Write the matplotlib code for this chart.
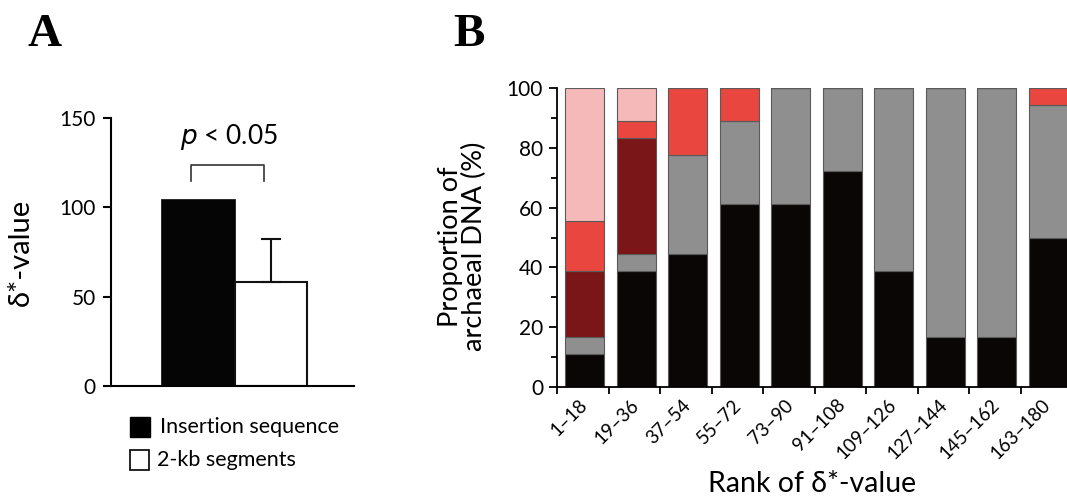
import matplotlib
matplotlib.use("Agg")
import matplotlib.pyplot as plt
import numpy as np

plt.rcParams['font.family'] = ['Lato', 'DejaVu Sans']

# Panel A data
a_groups = ["Insertion sequence", "2-kb segments"]
a_values = [104, 58]
a_err_up = [0, 24]

# Panel B data (percent, stacked bottom -> top)
b_labels = ["1\u201318", "19\u201336", "37\u201354", "55\u201372", "73\u201390",
            "91\u2013108", "109\u2013126", "127\u2013144", "145\u2013162", "163\u2013180"]
seg_black   = [11.1, 38.9, 44.4, 61.1, 61.1, 72.2, 38.9, 16.7, 16.7, 50.0]
seg_gray    = [5.6, 5.6, 33.3, 27.8, 38.9, 27.8, 61.1, 83.3, 83.3, 44.4]
seg_darkred = [22.2, 38.9, 0, 0, 0, 0, 0, 0, 0, 0]
seg_red     = [16.7, 5.6, 22.2, 11.1, 0, 0, 0, 0, 0, 5.6]
seg_pink    = [44.4, 11.1, 0, 0, 0, 0, 0, 0, 0, 0]

W, H = 1067, 503
fig = plt.figure(figsize=(W / 100, H / 100), dpi=100)

def fx(px):
    return px / W

def fy(py):
    return 1 - py / H

# ---------- Panel A ----------
axA = fig.add_axes([fx(111), fy(386), fx(354 - 111), fy(118) - fy(386)])
unit = 73.0
left_off = (198 - 111) / unit
xA = np.arange(len(a_values))
axA.bar(xA[0], a_values[0], width=1.0, color='#050505', edgecolor='#050505', linewidth=1.2)
axA.bar(xA[1], a_values[1], width=0.98, color='white', edgecolor='#111111', linewidth=1.5,
        yerr=[[a_err_up[0] * 0], [a_err_up[1]]], error_kw=dict(ecolor='#111111', elinewidth=1.5,
                                                               capsize=7, capthick=1.5))
axA.set_xlim(-left_off, -left_off + (354 - 111) / unit)
axA.set_ylim(0, 150)
axA.set_yticks([0, 50, 100, 150])
axA.set_xticks([])
for s in ['top', 'right']:
    axA.spines[s].set_visible(False)
for s in ['left', 'bottom']:
    axA.spines[s].set_linewidth(1.5)
axA.tick_params(axis='y', direction='out', length=6, width=1.5, labelsize=15, pad=5)
axA.set_ylabel("\u03b4*-value", fontsize=21, labelpad=18)

# significance bracket
bx0, bx1 = -0.1, 0.9
axA.plot([bx0, bx0, bx1, bx1], [114.5, 123.5, 123.5, 114.5], color='#333333', lw=1.2, clip_on=False)
axA.text(0.42, 131, r"$\it{p}$ < 0.05", ha='center', va='bottom', fontsize=19)

# legend (manual)
fig.patches.append(plt.Rectangle((fx(130), fy(437)), fx(20), fy(417) - fy(437),
                                 transform=fig.transFigure, facecolor='black', edgecolor='black'))
fig.patches.append(plt.Rectangle((fx(130), fy(470)), fx(19), fy(450) - fy(470),
                                 transform=fig.transFigure, facecolor='white', edgecolor='black', lw=1.2))
fig.text(fx(160), fy(427), a_groups[0], fontsize=15.5, va='center', ha='left')
fig.text(fx(157), fy(460), a_groups[1], fontsize=15.5, va='center', ha='left')

# ---------- Panel B ----------
axB = fig.add_axes([fx(557), fy(387), fx(1067 - 557), fy(88) - fy(387)])
unitB = 51.5
xB = np.arange(len(b_labels))
bw = 39 / unitB
colors = ['#0a0606', '#8f8f8f', '#7a1518', '#e8463f', '#f6b9b9']
bottom = np.zeros(len(b_labels))
for vals, c in zip([seg_black, seg_gray, seg_darkred, seg_red, seg_pink], colors):
    vals = np.array(vals)
    axB.bar(xB, vals, width=bw, bottom=bottom, color=c, edgecolor='#5a5a5a', linewidth=0.8)
    bottom += vals
x_left = -(584.5 - 557) / unitB
axB.set_xlim(x_left, x_left + (1067 - 557) / unitB)
axB.set_ylim(0, 100)
axB.set_yticks([0, 20, 40, 60, 80, 100])
axB.set_yticks(np.arange(10, 100, 20), minor=True)
axB.set_xticks(xB)
axB.set_xticklabels(b_labels, rotation=45, ha='right', va='center', rotation_mode='anchor', fontsize=13.5)
axB.set_xticks(x_left + np.arange(0, 10) * 1.0, minor=True)
axB.tick_params(axis='x', which='major', length=0, pad=11)
axB.tick_params(axis='x', which='minor', direction='out', length=5, width=1.3)
axB.tick_params(axis='y', which='major', direction='out', length=6, width=1.3, labelsize=15, pad=4)
axB.tick_params(axis='y', which='minor', direction='out', length=4, width=1.3)
for s in ['top', 'right']:
    axB.spines[s].set_visible(False)
for s in ['left', 'bottom']:
    axB.spines[s].set_linewidth(1.3)
axB.set_ylabel("Proportion of\narchaeal DNA (%)", fontsize=19.5, linespacing=0.95)
axB.yaxis.set_label_coords(-0.137, 0.47)
axB.set_xlabel("Rank of \u03b4*-value", fontsize=20.5, labelpad=6)

# panel letters
fig.text(fx(27), fy(46), "A", fontsize=34, fontweight='bold', family='Liberation Serif', ha='left', va='baseline')
fig.text(fx(453), fy(46), "B", fontsize=34, fontweight='bold', family='Liberation Serif', ha='left', va='baseline')

fig.savefig("out.png", dpi=100)
